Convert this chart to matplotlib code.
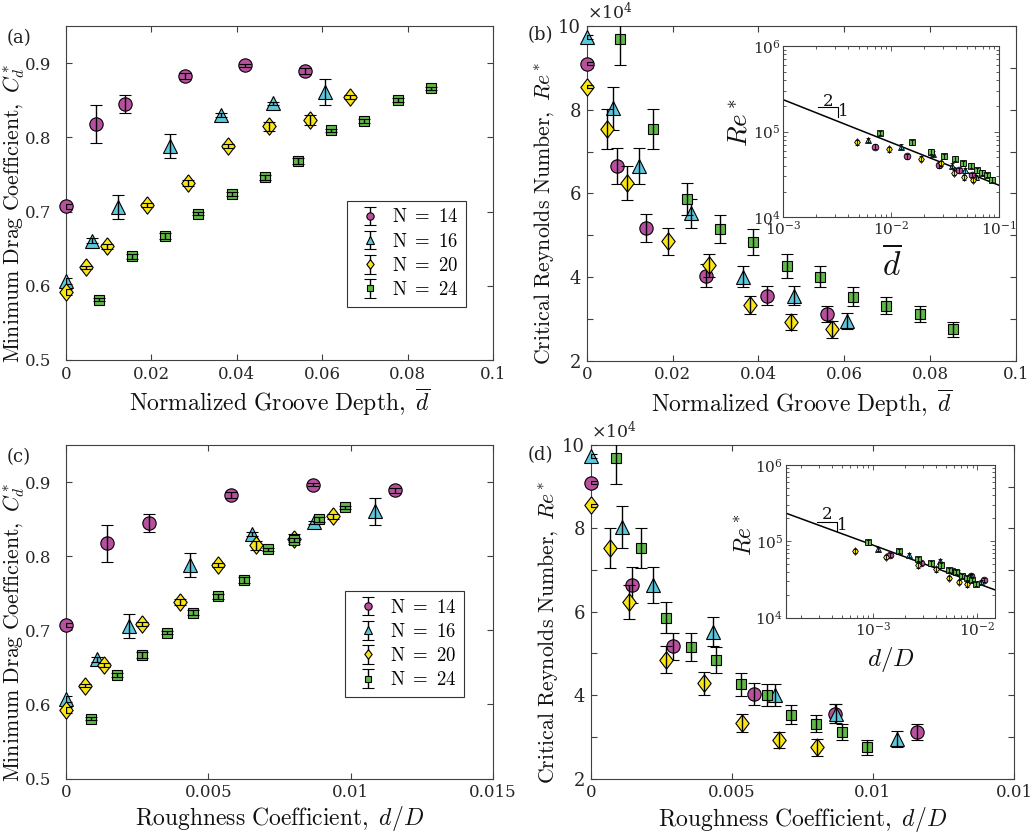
import numpy as np
import matplotlib
matplotlib.use("Agg")
import matplotlib.pyplot as plt

plt.rcParams['font.family'] = ['DejaVu Serif']
plt.rcParams['mathtext.fontset'] = 'dejavuserif'

# ---------------- data ----------------
N_LABELS = [r'$\mathrm{N}\ =\ 14$', r'$\mathrm{N}\ =\ 16$', r'$\mathrm{N}\ =\ 20$', r'$\mathrm{N}\ =\ 24$']

# normalized groove depth d-bar
dbar_14 = [0.0, 0.0070, 0.0139, 0.0279, 0.0420, 0.0559]
dbar_16 = [0.0, 0.0061, 0.0122, 0.0243, 0.0364, 0.0484, 0.0606]
dbar_20 = [0.0, 0.0048, 0.0095, 0.0190, 0.0286, 0.0380, 0.0476, 0.0571, 0.0666]
dbar_24 = [0.0078, 0.01555, 0.0233, 0.0310, 0.0388, 0.0466, 0.0543, 0.0621, 0.0698, 0.0777, 0.0854]

# roughness coefficient d/D
dD_14 = [0.0, 0.00145, 0.0029, 0.00578, 0.00867, 0.01155]
dD_16 = [0.0, 0.0011, 0.0022, 0.00435, 0.00653, 0.0087, 0.01086]
dD_20 = [0.0, 0.00067, 0.00134, 0.00268, 0.00402, 0.00535, 0.00669, 0.00802, 0.00937]
dD_24 = [0.00089, 0.00178, 0.00267, 0.00356, 0.00445, 0.00533, 0.00625, 0.00711, 0.0080, 0.0089, 0.0098]

# minimum drag coefficient Cd*
cd_14 = [0.707, 0.818, 0.845, 0.883, 0.897, 0.889]
cd_16 = [0.607, 0.661, 0.706, 0.788, 0.830, 0.846, 0.861]
cd_20 = [0.592, 0.625, 0.653, 0.709, 0.738, 0.788, 0.815, 0.8235, 0.854]
cd_24 = [0.581, 0.6395, 0.667, 0.697, 0.724, 0.746, 0.768, 0.8096, 0.822, 0.850, 0.866]
cd_err_14 = [0.003, 0.025, 0.012, 0.004, 0.002, 0.004]
cd_err_16 = [0.004, 0.003, 0.016, 0.016, 0.003, 0.002, 0.018]
cd_err_20 = [0.004, 0.002, 0.003, 0.003, 0.004, 0.003, 0.006, 0.007, 0.003]
cd_err_24 = [0.002, 0.003, 0.004, 0.002, 0.003, 0.003, 0.004, 0.002, 0.003, 0.003, 0.002]

# critical Reynolds number Re* (units of 1e4)
RE_SCALE = 1e4
re_14 = [9.10, 6.65, 5.17, 4.03, 3.55, 3.12]
re_16 = [9.74, 8.03, 6.65, 5.52, 4.01, 3.55, 2.94]
re_20 = [8.55, 7.53, 6.24, 4.85, 4.28, 3.33, 2.92, 2.75]
re_24 = [9.69, 7.53, 5.86, 5.155, 4.845, 4.26, 4.01, 3.53, 3.315, 3.115, 2.75]
re_err_14 = [0.04, 0.43, 0.33, 0.27, 0.23, 0.19]
re_err_16 = [0.04, 0.51, 0.43, 0.35, 0.26, 0.23, 0.19]
re_err_20 = [0.04, 0.48, 0.41, 0.32, 0.27, 0.22, 0.19, 0.20]
re_err_24 = [0.62, 0.48, 0.38, 0.33, 0.31, 0.28, 0.26, 0.23, 0.21, 0.19, 0.18]

# -1/2 power-law guide lines in the insets: Re* = C * x^(-1/2)
FIT_EXP = -0.5
FIT_C_DBAR = 7460.0
FIT_C_DD = 2815.0

# ---------------- style ----------------
COLORS = ['#B9509F', '#5BC8DC', '#FAE614', '#5FB946']
_dia = [(0, 1), (0.77, 0), (0, -1), (-0.77, 0), (0, 1)]
MARKERS = ['o', '^', _dia, 's']
MS_MAIN = [9.6, 10.5, 12.5, 7.7]
MS_INSET = [4.8, 4.8, 5.4, 3.9]

W, H = 1035, 836
fig = plt.figure(figsize=(W / 100, H / 100), dpi=100)


def pos(l, t, r, b):
    return [l / W, 1 - b / H, (r - l) / W, (b - t) / H]


AX_COL = '#404040'
TXT_COL = '#262626'


def style_axes(ax, ypad):
    for s in ax.spines.values():
        s.set_color(AX_COL)
        s.set_linewidth(0.8)
    ax.tick_params(direction='in', length=4.5, width=0.8, top=True, right=True,
                   color=AX_COL, labelcolor=TXT_COL, labelsize=12)
    ax.tick_params(axis='x', pad=4)
    ax.tick_params(axis='y', pad=ypad)


def draw_series(ax, xs, ys, errs, ms_list, capsize, elw):
    for i, (x, y, e) in enumerate(zip(xs, ys, errs)):
        c = ax.errorbar(x, y, yerr=e, linestyle='none',
                        marker=MARKERS[i], ms=ms_list[i], mfc=COLORS[i], mec='black',
                        mew=0.8, ecolor='black', elinewidth=elw, capsize=capsize,
                        capthick=elw, barsabove=True, zorder=3 + i, label=N_LABELS[i])
        c[0].set_clip_on(False)


dbar_all = [dbar_14, dbar_16, dbar_20, dbar_24]
dD_all = [dD_14, dD_16, dD_20, dD_24]
cd_all = [cd_14, cd_16, cd_20, cd_24]
cd_err_all = [cd_err_14, cd_err_16, cd_err_20, cd_err_24]
re_all = [re_14, re_16, re_20, re_24]
re_err_all = [re_err_14, re_err_16, re_err_20, re_err_24]


def re_x(xlist):
    # x positions of the Re* points (N=20 has one fewer Re* point)
    return [np.asarray(x)[:len(r)] for x, r in zip(xlist, re_all)]


XL_A = r'$\mathrm{Normalized\ Groove\ Depth,}\ \overline{d}$'
XL_C = r'$\mathrm{Roughness\ Coefficient,}\ d/D$'
YL_A = r'$\mathrm{Minimum\ Drag\ Coefficient,}\ C_d^*$'
YL_B = r'$\mathrm{Critical\ Reynolds\ Number,}\ Re^*$'
XLBL_FS = 17
YLBL_FS = 15.7

ax_a = fig.add_axes(pos(66, 26, 493, 360))
ax_b = fig.add_axes(pos(586.7, 26, 1016, 360.7))
ax_c = fig.add_axes(pos(66, 445.3, 493, 778.5))
ax_d = fig.add_axes(pos(590.7, 445, 1014, 778.5))

# ---- Cd panels ----
for ax, xs, xlim, xt, xtl, xl in [
        (ax_a, dbar_all, (0, 0.1), [0, 0.02, 0.04, 0.06, 0.08, 0.1],
         ['0', '0.02', '0.04', '0.06', '0.08', '0.1'], XL_A),
        (ax_c, dD_all, (0, 0.015), [0, 0.005, 0.01, 0.015],
         ['0', '0.005', '0.01', '0.015'], XL_C)]:
    style_axes(ax, 10.5)
    draw_series(ax, xs, cd_all, cd_err_all, MS_MAIN, 4.5, 1.0)
    ax.set_xlim(*xlim)
    ax.set_ylim(0.5, 0.95)
    ax.set_xticks(xt, xtl)
    ax.set_yticks([0.5, 0.6, 0.7, 0.8, 0.9], ['0.5', '0.6', '0.7', '0.8', '0.9'])
    ax.set_xlabel(xl, fontsize=XLBL_FS, math_fontfamily='cm', color='#111111')
    ax.xaxis.set_label_coords(0.5, -0.078)
    ax.set_ylabel(YL_A, fontsize=YLBL_FS, math_fontfamily='cm', color='#111111')
    ax.yaxis.set_label_coords(-0.091, 0.44)

leg_kw = dict(loc='lower left', borderaxespad=0, fontsize=13.5, markerscale=0.55,
              handlelength=1.6, handletextpad=0.4, borderpad=0.4, labelspacing=0.33,
              fancybox=False, framealpha=1, edgecolor='#333333')
leg_a = ax_a.legend(bbox_to_anchor=(0.659, 0.160), **leg_kw)
leg_c = ax_c.legend(bbox_to_anchor=(0.654, 0.2455), **leg_kw)
for leg in (leg_a, leg_c):
    leg.get_frame().set_linewidth(0.8)
    for t in leg.get_texts():
        t.set_math_fontfamily('cm')

# ---- Re panels ----
for ax, xs, xlim, xt, xtl, xl in [
        (ax_b, re_x(dbar_all), (0, 0.1), [0, 0.02, 0.04, 0.06, 0.08, 0.1],
         ['0', '0.02', '0.04', '0.06', '0.08', '0.1'], XL_A),
        (ax_d, re_x(dD_all), (0, 0.015), [0, 0.005, 0.01, 0.015],
         ['0', '0.005', '0.01', '0.01'], XL_C)]:
    style_axes(ax, 4)
    draw_series(ax, xs, re_all, re_err_all, MS_MAIN, 4.5, 1.0)
    ax.set_xlim(*xlim)
    ax.set_ylim(2, 10)
    ax.set_xticks(xt, xtl)
    ax.set_yticks(np.arange(2, 10.5, 1),
                  [str(int(v)) if int(v) % 2 == 0 else '' for v in np.arange(2, 10.5, 1)])
    ax.tick_params(axis='y', labelsize=13)
    ax.set_xlabel(xl, fontsize=XLBL_FS, math_fontfamily='cm', color='#111111')
    ax.xaxis.set_label_coords(0.5, -0.078)
    ax.set_ylabel(YL_B, fontsize=YLBL_FS, math_fontfamily='cm', color='#111111')
    ax.yaxis.set_label_coords(-0.0715, 0.44)
    ax.text(0.0, 1.008, r'$\times10^{4}$', transform=ax.transAxes, ha='left', va='bottom',
            fontsize=12.5, color=TXT_COL)

# ---- insets ----
in_b = fig.add_axes(pos(783.3, 46, 999.3, 217.3))
in_d = fig.add_axes(pos(785.7, 465, 995.3, 617.7))
for ax, xs, xlim, fc, xl, xl_fs, xl_y, yl_fs, yl_x, yl_y, tri in [
        (in_b, re_x(dbar_all), (1e-3, 1e-1), FIT_C_DBAR, r'$\overline{d}$', 24, -0.17,
         19.5, -0.14, 0.55, (0.159, 0.255, 0.642, 0.584, 0.208, 0.675, 0.278, 0.616)),
        (in_d, re_x(dD_all), (1.44e-4, 1.49e-2), FIT_C_DD, r'$d/D$', 18, -0.179,
         17, -0.145, 0.542, (0.148, 0.246, 0.629, 0.568, 0.198, 0.673, 0.272, 0.607))]:
    ax.set_xscale('log')
    ax.set_yscale('log')
    for s in ax.spines.values():
        s.set_color(AX_COL)
        s.set_linewidth(0.8)
    ax.tick_params(which='both', direction='in', top=True, right=True, color=AX_COL,
                   labelcolor=TXT_COL, labelsize=11, width=0.6)
    ax.tick_params(which='major', length=3.5, pad=2)
    ax.tick_params(which='minor', length=2)
    xx = np.logspace(np.log10(xlim[0]), np.log10(xlim[1]), 50)
    ax.plot(xx, fc * xx ** FIT_EXP, color='black', lw=1.1, zorder=2)
    for i in range(4):
        x = np.asarray(xs[i])
        y = np.asarray(re_all[i]) * RE_SCALE
        e = np.asarray(re_err_all[i]) * RE_SCALE
        m = x > 0
        ax.errorbar(x[m], y[m], yerr=e[m], linestyle='none', marker=MARKERS[i],
                    ms=MS_INSET[i], mfc=COLORS[i], mec='black', mew=0.6,
                    ecolor='black', elinewidth=0.6, capsize=1.5, capthick=0.6,
                    barsabove=True, zorder=3 + i)
    ax.set_xlim(*xlim)
    ax.set_ylim(1e4, 1e6)
    ax.set_xlabel(xl, fontsize=xl_fs, math_fontfamily='cm', color='#111111')
    ax.xaxis.set_label_coords(0.5, xl_y)
    ax.set_ylabel(r'$Re^*$', fontsize=yl_fs, math_fontfamily='cm', color='#111111')
    ax.yaxis.set_label_coords(yl_x, yl_y)
    hx0, hx1, hy0, hy1, t2x, t2y, t1x, t1y = tri
    ax.plot([hx0, hx1, hx1], [hy0, hy0, hy1], transform=ax.transAxes, color='black',
            lw=0.8, zorder=2)
    ax.text(t2x, t2y, '2', transform=ax.transAxes, ha='center', va='center',
            fontsize=12, color='#111111')
    ax.text(t1x, t1y, '1', transform=ax.transAxes, ha='center', va='center',
            fontsize=12, color='#111111')

# panel letters
for (px, py), s in zip([(19, 38), (540, 35), (19, 457), (540, 455)], ['(a)', '(b)', '(c)', '(d)']):
    fig.text(px / W, 1 - py / H, s, ha='center', va='center', fontsize=13, color='#222222')

fig.savefig('out.png', dpi=100)
